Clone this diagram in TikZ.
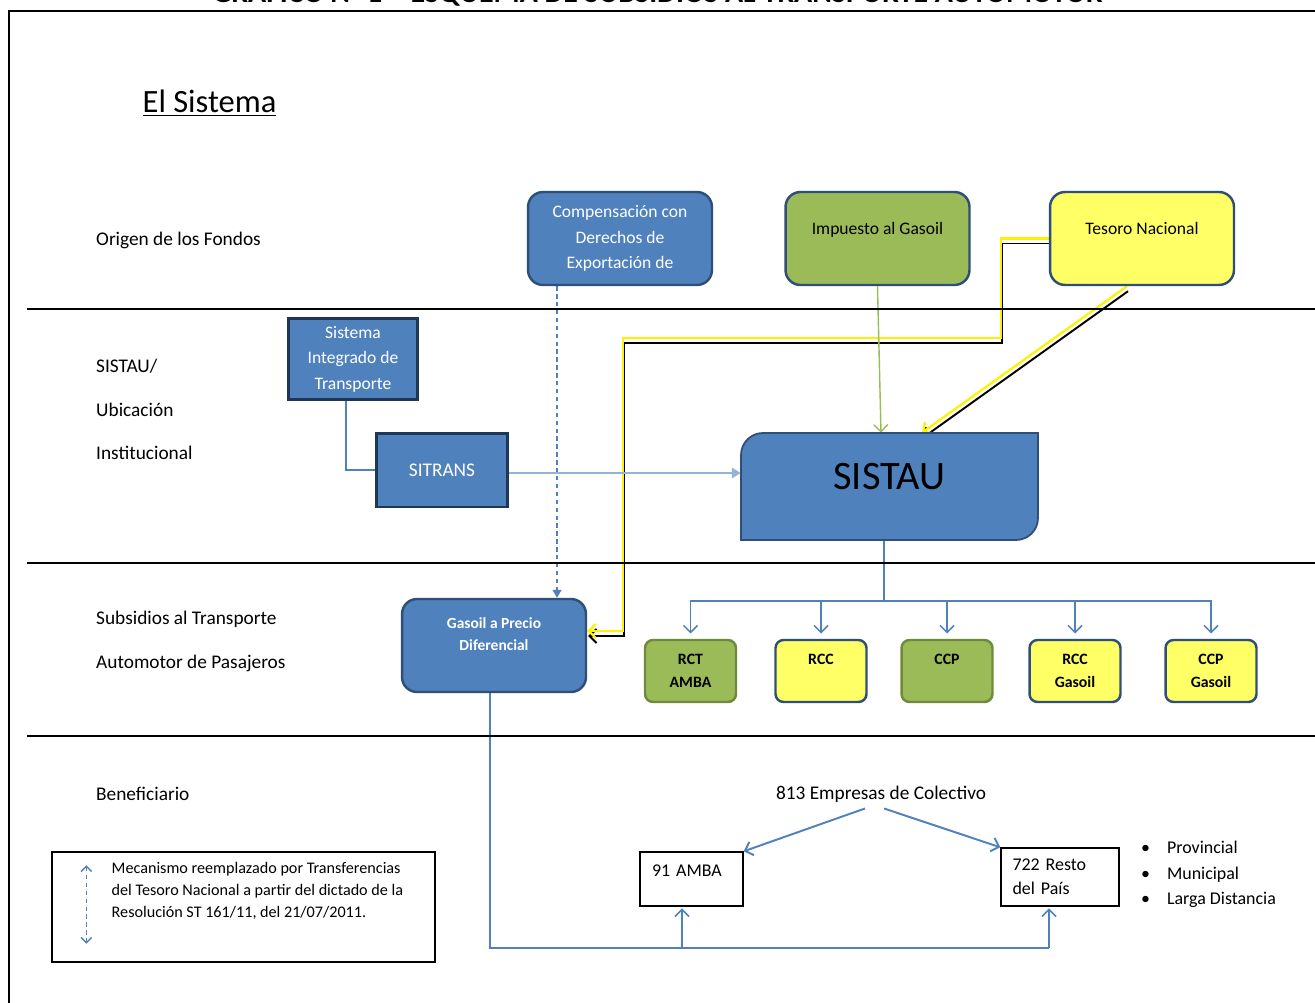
\documentclass[tikz,border=0pt]{standalone}
\usepackage{fontspec}
\setmainfont{Carlito}
\usetikzlibrary{arrows.meta,backgrounds}

\definecolor{azulcaja}{HTML}{4F81BD}
\definecolor{bordecaja}{HTML}{2F4F78}
\definecolor{bordeoscuro}{HTML}{1F3756}
\definecolor{verdecaja}{HTML}{9BBB59}
\definecolor{bordeverde}{HTML}{6E8A3A}
\definecolor{amarillocaja}{HTML}{FFFF66}
\definecolor{celeste}{HTML}{95B3D7}

\tikzset{
  caja/.style={draw=bordecaja, line width=1.4pt, rounded corners=0.3cm, align=center},
  fondo/.style={caja, minimum width=3.68cm, minimum height=1.86cm},
  recto/.style={draw=bordeoscuro, line width=1.7pt, fill=azulcaja, text=white, align=center},
  chica/.style={caja, rounded corners=0.16cm, minimum width=1.82cm, minimum height=1.24cm,
    font=\bfseries\fontsize{9}{13}\selectfont},
  benef/.style={draw, line width=0.8pt, align=left, font=\fontsize{10.2}{13.6}\selectfont},
  etiq/.style={anchor=west, align=left, font=\fontsize{11}{24.7}\selectfont},
  linea/.style={draw=azulcaja, line width=0.9pt},
  flecha/.style={linea, -{Straight Barb[length=4pt,width=8pt]}},
  amarilla/.style={draw=yellow, line width=1.3pt, -{Straight Barb[length=4pt,width=8pt]}},
  sombra/.style={draw=black, line width=1.1pt, -{Straight Barb[length=4pt,width=8pt]},
    transform canvas={shift={(1,5)}}},
  punteada/.style={draw=azulcaja, line width=0.9pt, dash pattern=on 2.5pt off 2pt,
    -{Triangle[length=4.5pt,width=5pt]}}
}

\begin{document}
\begin{tikzpicture}[x=0.02cm, y=-0.02cm]
  \useasboundingbox (0,0) rectangle (1315,1003);

  % Titulo cortado arriba
  \node[anchor=base, font=\bfseries\fontsize{17}{20}\selectfont] (grafico) at (657.5,3)
    {GRÁFICO N° 1 – ESQUEMA DE SUBSIDIOS AL TRANSPORTE AUTOMOTOR};

  % Marco y franjas
  \draw[line width=1pt] (9,1003) -- (9,11) -- (1315,11);
  \draw[line width=0.7pt] (27,309) -- (1315,309);
  \draw[line width=0.7pt] (27,563) -- (1315,563);
  \draw[line width=0.7pt] (27,736) -- (1315,736);

  \node[font=\fontsize{18.5}{20}\selectfont] (titulo) at (209.5,103) {\underline{El Sistema}};

  % Etiquetas de las franjas
  \node[etiq] (origen) at (90,240) {Origen de los Fondos};
  \node[etiq] (ubic) at (90,409.5) {SISTAU/\\Ubicación\\Institucional};
  \node[etiq] (subs) at (90,641.5) {Subsidios al Transporte\\Automotor de Pasajeros};
  \node[etiq] (benefi) at (90,794) {Beneficiario};

  % Origen de los fondos
  \node[fondo, fill=azulcaja, text=white, font=\fontsize{10}{14.5}\selectfont] (comp) at (620,238.5)
    {Compensación con\\Derechos de\\Exportación de};
  \node[fondo, fill=verdecaja, font=\fontsize{10}{11}\selectfont] (imp) at (877.5,238.5)
    {Impuesto al Gasoil\\\mbox{}};
  \node[fondo, fill=amarillocaja, font=\fontsize{10}{11}\selectfont] (tes) at (1142,238.5)
    {Tesoro Nacional\\\mbox{}};

  % Ubicacion institucional
  \node[recto, minimum width=2.6cm, minimum height=1.64cm, font=\fontsize{10}{14.5}\selectfont] (sint)
    at (353,359) {Sistema\\Integrado de\\Transporte};
  \node[recto, minimum width=2.64cm, minimum height=1.48cm, font=\fontsize{11}{13}\selectfont] (sit)
    at (442,470) {SITRANS};

  \filldraw[fill=azulcaja, draw=bordecaja, line width=1pt] (741,540) -- (741,455)
    arc[start angle=180, end angle=270, radius=22] -- (1038,433) -- (1038,518)
    arc[start angle=0, end angle=90, radius=22] -- cycle;
  \node[font=\fontsize{23}{26}\selectfont, minimum width=5.94cm, minimum height=2.14cm,
    text depth=0.42cm] (sistau) at (889.5,486.5) {SISTAU};

  % Subsidios
  \node[fondo, fill=azulcaja, text=white, font=\bfseries\fontsize{8.8}{13}\selectfont] (gas)
    at (494,645.5) {Gasoil a Precio\\Diferencial\\\mbox{}};
  \node[chica, fill=verdecaja, draw=bordeverde] (rct) at (690.5,671) {RCT\\AMBA};
  \node[chica, fill=amarillocaja] (rcc) at (821,671) {RCC\\\mbox{}};
  \node[chica, fill=verdecaja, draw=bordeverde] (ccp) at (947,671) {CCP\\\mbox{}};
  \node[chica, fill=amarillocaja] (rccg) at (1075,671) {RCC\\Gasoil};
  \node[chica, fill=amarillocaja] (ccpg) at (1211,671) {CCP\\Gasoil};

  % Beneficiarios
  \node[font=\fontsize{11}{13}\selectfont] (emp) at (881,794) {813 Empresas de Colectivo};
  \node[benef, minimum width=2.06cm, minimum height=1.08cm, text width=1.58cm,
    text height=7pt, text depth=9.3pt] (amba) at (691.5,879) {91 AMBA};
  \node[benef, minimum width=2.36cm, minimum height=1.16cm, text width=1.9cm] (resto)
    at (1060,877) {722 Resto\\del País};
  \node[anchor=west, align=left, font=\fontsize{10.2}{14.5}\selectfont] (tipos) at (1135,874.5)
    {\makebox[14.7pt][l]{\textbullet}Provincial\\
     \makebox[14.7pt][l]{\textbullet}Municipal\\
     \makebox[14.7pt][l]{\textbullet}Larga Distancia};

  % Leyenda
  \node[draw, line width=0.8pt, minimum width=7.66cm, minimum height=2.2cm] (leyenda) at (243.5,907) {};
  \node[anchor=west, align=left, font=\fontsize{9.2}{12.5}\selectfont] (leytexto) at (105.5,891)
    {Mecanismo reemplazado por Transferencias\\
     del Tesoro Nacional a partir del dictado de la\\
     Resolución ST 161/11, del 21/07/2011.};

  \begin{pgfonlayer}{background}
    % Flujos de fondos
    \coordinate (codo1) at (1001,338);
    \coordinate (codo2) at (623,631);
    \draw[sombra] (tes.west) -| (codo1) -| (codo2) -- (codo2 -| gas.east);
    \draw[amarilla] (tes.west) -| (codo1) -| (codo2) -- (codo2 -| gas.east);
    \draw[sombra] ([xshift=-0.3cm]tes.south) -- ([xshift=0.65cm]sistau.north);
    \draw[amarilla] ([xshift=-0.3cm]tes.south) -- ([xshift=0.65cm]sistau.north);
    \draw[draw=verdecaja, line width=0.8pt, -{Straight Barb[length=4pt,width=8pt]}]
      (imp.south) -- ([xshift=-0.17cm]sistau.north);
    \draw[punteada] ([xshift=-1.26cm]comp.south) -- ([xshift=-1.26cm]comp.south |- gas.north);

    % Ubicacion institucional
    \draw[linea] ([xshift=-0.14cm]sint.south) |- (sit.west);
    \draw[draw=celeste, line width=0.9pt, -{Triangle[length=5pt,width=6pt]}]
      ([yshift=-0.06cm]sit.east) -- ([yshift=-0.06cm]sit.east -| sistau.west);

    % Reparto del SISTAU
    \coordinate (rama) at (884,601);
    \draw[linea] ([xshift=-0.11cm]sistau.south) -- (rama);
    \draw[flecha, shorten >=3pt] (rama) -| (rct.north);
    \draw[flecha, shorten >=3pt] (rama) -| (rcc.north);
    \draw[flecha, shorten >=3pt] (rama) -| (ccp.north);
    \draw[flecha, shorten >=3pt] (rama) -| (rccg.north);
    \draw[flecha, shorten >=3pt] (rama) -| (ccpg.north);

    % Hacia los beneficiarios
    \coordinate (piso) at (1049,948);
    \coordinate (piso2) at (682,948);
    \draw[linea] ([xshift=-0.08cm]gas.south) |- (piso);
    \draw[flecha, shorten >=1pt] (piso2) -- (piso2 |- amba.south);
    \draw[flecha, shorten >=1pt] (piso) -- (piso |- resto.south);
    \draw[flecha, line width=1.1pt] ([xshift=-0.32cm]emp.south) -- (amba.north east);
    \draw[flecha, line width=1.1pt] ([xshift=0.06cm]emp.south) -- (resto.north west);

    % Muestra de la leyenda
    \draw[draw=azulcaja, line width=0.8pt, dash pattern=on 2.5pt off 2pt,
      {Straight Barb[length=3pt,width=6pt]}-{Straight Barb[length=3pt,width=6pt]}]
      ([xshift=0.7cm,yshift=-0.28cm]leyenda.north west) -- ([xshift=0.7cm,yshift=0.38cm]leyenda.south west);
  \end{pgfonlayer}

\end{tikzpicture}
\end{document}
